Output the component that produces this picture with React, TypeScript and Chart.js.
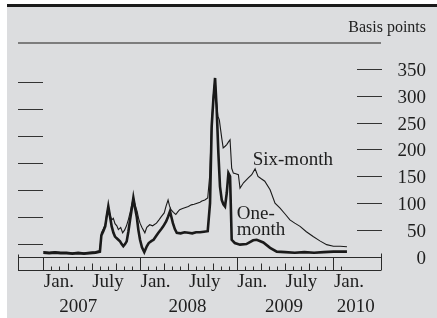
import React, { useEffect, useRef } from 'react';
import { Chart, registerables } from 'chart.js';

Chart.register(...registerables);

// ---- Data (fractional years, basis points) ----
const oneMonthDates = [
  2007.0, 2007.06, 2007.12, 2007.18, 2007.24, 2007.3, 2007.36, 2007.42, 2007.48, 2007.54,
  2007.585, 2007.6, 2007.62, 2007.64, 2007.655, 2007.672, 2007.69, 2007.707, 2007.725, 2007.741,
  2007.77, 2007.793, 2007.81, 2007.827, 2007.845, 2007.862, 2007.88, 2007.897, 2007.915, 2007.931,
  2007.948, 2007.966, 2007.983, 2008.0, 2008.02, 2008.044, 2008.07, 2008.09, 2008.12, 2008.14,
  2008.17, 2008.19, 2008.22, 2008.24, 2008.27, 2008.29, 2008.31, 2008.325, 2008.34, 2008.36,
  2008.38, 2008.42, 2008.46, 2008.5, 2008.54, 2008.58, 2008.62, 2008.66, 2008.7, 2008.724,
  2008.741, 2008.758, 2008.776, 2008.793, 2008.81, 2008.827, 2008.845, 2008.862, 2008.879, 2008.897,
  2008.914, 2008.931, 2008.948, 2008.98, 2009.034, 2009.1, 2009.17, 2009.207, 2009.275, 2009.345,
  2009.414, 2009.5, 2009.6, 2009.7, 2009.8, 2009.9, 2010.0, 2010.14,
];
const oneMonthValues = [
  8, 7, 8, 7, 7, 6, 7, 6, 7, 8,
  10, 40, 48, 57, 75, 94, 75, 57, 45, 38,
  33, 29, 24, 20, 24, 29, 48, 69, 90, 110,
  92, 75, 50, 32, 18, 9, 20, 26, 30, 32,
  40, 45, 52, 57, 66, 75, 85, 74, 63, 52,
  45, 44, 46, 45, 44, 46, 46, 47, 48, 100,
  243, 292, 333, 274, 194, 131, 106, 98, 94, 119,
  156, 150, 32, 26, 23, 24, 31, 32, 27, 17,
  10, 9, 8, 9, 8, 9, 10, 10,
];

const sixMonthDates = [
  2007.0, 2007.06, 2007.12, 2007.18, 2007.24, 2007.3, 2007.36, 2007.42, 2007.48, 2007.54,
  2007.585, 2007.6, 2007.62, 2007.64, 2007.655, 2007.672, 2007.69, 2007.707, 2007.724, 2007.741,
  2007.76, 2007.776, 2007.8, 2007.82, 2007.84, 2007.86, 2007.88, 2007.9, 2007.915, 2007.931,
  2007.95, 2007.97, 2007.985, 2008.0, 2008.02, 2008.05, 2008.07, 2008.1, 2008.13, 2008.17,
  2008.2, 2008.22, 2008.25, 2008.27, 2008.29, 2008.305, 2008.32, 2008.345, 2008.37, 2008.39,
  2008.41, 2008.44, 2008.47, 2008.5, 2008.53, 2008.56, 2008.59, 2008.62, 2008.64, 2008.67,
  2008.7, 2008.72, 2008.741, 2008.758, 2008.776, 2008.79, 2008.805, 2008.82, 2008.845, 2008.86,
  2008.88, 2008.897, 2008.915, 2008.931, 2008.948, 2008.965, 2008.99, 2009.017, 2009.034, 2009.07,
  2009.12, 2009.155, 2009.19, 2009.22, 2009.25, 2009.29, 2009.345, 2009.396, 2009.448, 2009.5,
  2009.55, 2009.6, 2009.655, 2009.72, 2009.79, 2009.86, 2009.93, 2010.0, 2010.07, 2010.14,
];
const sixMonthValues = [
  10, 9, 10, 9, 9, 8, 9, 8, 9, 10,
  12, 45, 52, 60, 80, 94, 78, 69, 72, 62,
  58, 51, 55, 45, 50, 58, 70, 85, 98, 110,
  96, 85, 72, 63, 55, 45, 55, 60, 58, 63,
  70, 75, 82, 95, 106, 95, 88, 83, 79, 84,
  88, 90, 92, 94, 97, 98, 100, 102, 104, 106,
  110, 150, 250, 300, 333, 290, 262, 255, 221, 203,
  206, 209, 214, 218, 165, 156, 155, 153, 128, 138,
  147, 153, 164, 150, 146, 141, 125, 100, 91, 80,
  69, 63, 57, 47, 38, 30, 23, 20, 20, 19,
];

// ---- Axis labels ----
const rightTickValues = [0, 50, 100, 150, 200, 250, 300, 350];
const leftTickValues = [25, 75, 125, 175, 225, 275, 325];
const monthLabelDates = [2007, 2007.5, 2008, 2008.5, 2009, 2009.5, 2010];
const monthLabels = ['Jan.', 'July', 'Jan.', 'July', 'Jan.', 'July', 'Jan.'];
const yearLabels = ['2007', '2008', '2009', '2010'];
const yearLabelCenters = [2007.36, 2008.49, 2009.49, 2010.23];
const yearDividers = [2007, 2008, 2009, 2010];

const X_MIN = 2006.738;
const X_MAX = 2010.492;
const Y_MAX = 398;

const SERIF = '"Liberation Serif", "DejaVu Serif", serif';
const INK = '#1e1e1e';

const decor = {
  id: 'decor',
  beforeDraw(chart: any) {
    const { ctx, width, height } = chart;
    ctx.save();
    ctx.fillStyle = '#ffffff';
    ctx.fillRect(0, 0, width, height);
    ctx.fillStyle = '#dcdddf';
    ctx.fillRect(7, 7, width - 7, height - 7);
    ctx.fillStyle = '#1a1a1a';
    ctx.fillRect(7, 4, width - 7, 3);
    ctx.restore();
  },
  beforeDatasetsDraw(chart: any) {
    const { ctx, chartArea } = chart;
    const xs = chart.scales.x;
    const ys = chart.scales.y;
    const L = chartArea.left;
    const R = chartArea.right;
    const T = chartArea.top;
    const B = ys.getPixelForValue(0);
    ctx.save();

    // top rule
    ctx.strokeStyle = '#7d7d7d';
    ctx.lineWidth = 2;
    ctx.beginPath();
    ctx.moveTo(L, T);
    ctx.lineTo(R, T);
    ctx.stroke();

    // basis points title
    ctx.fillStyle = INK;
    ctx.font = `16px ${SERIF}`;
    ctx.textAlign = 'right';
    ctx.textBaseline = 'alphabetic';
    ctx.fillText('Basis points', 426, 32);

    // right ticks + labels
    ctx.strokeStyle = '#333';
    ctx.lineWidth = 1;
    ctx.font = `19px ${SERIF}`;
    rightTickValues.forEach((v) => {
      const y = Math.round(ys.getPixelForValue(v)) + 0.5;
      if (v > 0) {
        ctx.beginPath();
        ctx.moveTo(R - 24, y);
        ctx.lineTo(R + 1, y);
        ctx.stroke();
      }
      ctx.fillText(String(v), 426, y + 6.5);
    });

    // left ticks (no labels)
    leftTickValues.forEach((v) => {
      const y = Math.round(ys.getPixelForValue(v)) + 0.5;
      ctx.beginPath();
      ctx.moveTo(L, y);
      ctx.lineTo(L + 25, y);
      ctx.stroke();
    });

    // x-axis box
    const yTop = Math.round(B) + 0.5;
    const yBot = yTop + 13;
    ctx.strokeStyle = '#2a2a2a';
    ctx.beginPath();
    ctx.moveTo(L, yTop);
    ctx.lineTo(R, yTop);
    ctx.moveTo(L, yBot);
    ctx.lineTo(R, yBot);
    ctx.moveTo(Math.round(L) + 0.5, yTop - 3);
    ctx.lineTo(Math.round(L) + 0.5, yBot);
    ctx.moveTo(Math.round(R) + 0.5, yTop - 4);
    ctx.lineTo(Math.round(R) + 0.5, yBot);
    yearDividers.forEach((d) => {
      const x = Math.round(xs.getPixelForValue(d)) + 0.5;
      ctx.moveTo(x, yTop);
      ctx.lineTo(x, yBot);
    });
    ctx.stroke();

    // monthly minor ticks
    ctx.beginPath();
    for (let yr = 2007; yr <= 2010; yr++) {
      for (let m = 1; m < 12; m++) {
        if (yr === 2010 && m > 1) break;
        const x = Math.round(xs.getPixelForValue(yr + m / 12)) + 0.5;
        const h = m % 3 === 0 ? 7 : 4;
        ctx.moveTo(x, yBot);
        ctx.lineTo(x, yBot - h);
      }
    }
    ctx.stroke();

    // month labels
    ctx.fillStyle = INK;
    ctx.font = `19px ${SERIF}`;
    ctx.textAlign = 'left';
    monthLabelDates.forEach((d, i) => {
      const x = xs.getPixelForValue(d);
      ctx.fillText(monthLabels[i], x + 0.5, 287);
    });
    ctx.textAlign = 'center';
    yearLabelCenters.forEach((d, i) => {
      ctx.fillText(yearLabels[i], xs.getPixelForValue(d), 312);
    });

    // series annotations
    ctx.textAlign = 'left';
    ctx.fillText('Six-month', xs.getPixelForValue(2009.165), ys.getPixelForValue(171.6));
    ctx.fillText('One-', xs.getPixelForValue(2009.0), ys.getPixelForValue(71.5));
    ctx.fillText('month', xs.getPixelForValue(2009.0), ys.getPixelForValue(41.5));

    ctx.restore();
  },
};

export default function App() {
  const ref = useRef<HTMLCanvasElement>(null);
  useEffect(() => {
    if (!ref.current) return;
    const chart = new Chart(ref.current, {
      type: 'line',
      data: {
        datasets: [
          {
            label: 'Six-month',
            data: sixMonthDates.map((d, i) => ({ x: d, y: sixMonthValues[i] })),
            borderColor: '#1a1a1a',
            borderWidth: 1.1,
            pointRadius: 0,
            tension: 0,
            fill: false,
          },
          {
            label: 'One-month',
            data: oneMonthDates.map((d, i) => ({ x: d, y: oneMonthValues[i] })),
            borderColor: '#1a1a1a',
            borderWidth: 2.6,
            pointRadius: 0,
            tension: 0,
            fill: false,
          },
        ],
      },
      options: {
        responsive: false,
        animation: false,
        devicePixelRatio: 1,
        events: [],
        layout: { padding: { left: 18, right: 56, top: 43, bottom: 61 } },
        scales: {
          x: { type: 'linear', min: X_MIN, max: X_MAX, display: false },
          y: { type: 'linear', min: 0, max: Y_MAX, display: false },
        },
        plugins: { legend: { display: false }, tooltip: { enabled: false } },
      },
      plugins: [decor],
    });
    let alive = true;
    const redraw = () => {
      if (alive) chart.draw();
    };
    if ((document as any).fonts) {
      (document as any).fonts.load(`19px "Liberation Serif"`).then(redraw, redraw);
      (document as any).fonts.ready.then(redraw, redraw);
    }
    const t = setTimeout(redraw, 100);
    return () => {
      alive = false;
      clearTimeout(t);
      chart.destroy();
    };
  }, []);
  return (
    <div style={{ position: 'absolute', left: 0, top: 0, width: 437, height: 318 }}>
      <canvas ref={ref} width={437} height={318} style={{ display: 'block' }} />
    </div>
  );
}
